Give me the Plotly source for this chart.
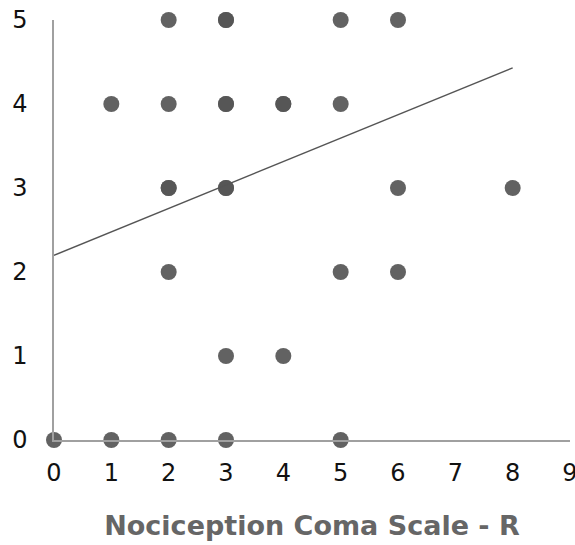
import plotly.graph_objects as go

# Data (duplicates at same location included where they appeared darker)
x_vals = [2, 3, 3, 5, 6,
          1, 2, 3, 3, 4, 4, 5,
          2, 2, 3, 3, 6, 8,
          2, 5, 6,
          3, 4,
          0, 1, 2, 3, 5]
y_vals = [5, 5, 5, 5, 5,
          4, 4, 4, 4, 4, 4, 4,
          3, 3, 3, 3, 3, 3,
          2, 2, 2,
          1, 1,
          0, 0, 0, 0, 0]

trend_x = [0, 8]
trend_y = [2.2, 4.43]

x_ticks = [0, 1, 2, 3, 4, 5, 6, 7, 8, 9]
y_ticks = [0, 1, 2, 3, 4, 5]

fig = go.Figure()
fig.add_trace(go.Scatter(
    x=trend_x, y=trend_y, mode="lines",
    line=dict(color="#555555", width=1.5),
    hoverinfo="skip", cliponaxis=False,
))
fig.add_trace(go.Scatter(
    x=x_vals, y=y_vals, mode="markers",
    marker=dict(color="#555555", size=16, line=dict(width=0), opacity=0.92),
    cliponaxis=False,
))

fig.update_layout(
    width=575, height=545,
    margin=dict(l=54, r=5, t=20, b=105),
    plot_bgcolor="white", paper_bgcolor="white",
    showlegend=False,
    font=dict(family="DejaVu Sans", size=24, color="#111111"),
    xaxis=dict(
        range=[0, 9], tickvals=x_ticks, showgrid=False, zeroline=False,
        showline=True, linecolor="#A0A0A0", linewidth=1.5,
        ticks="outside", ticklen=10, tickcolor="rgba(0,0,0,0)",
        tickfont=dict(size=24), ticklabeloverflow="allow", automargin=False,
        title=dict(text="<b>Nociception Coma Scale - R</b>",
                   font=dict(family="DejaVu Sans", size=27, color="#666666"),
                   standoff=31),
    ),
    yaxis=dict(
        range=[0, 5], tickvals=y_ticks, showgrid=False, zeroline=False,
        showline=True, linecolor="#A0A0A0", linewidth=1.5,
        ticks="outside", ticklen=20, tickcolor="rgba(0,0,0,0)",
        tickfont=dict(size=24), automargin=False,
    ),
)

fig.write_html("out.html")
